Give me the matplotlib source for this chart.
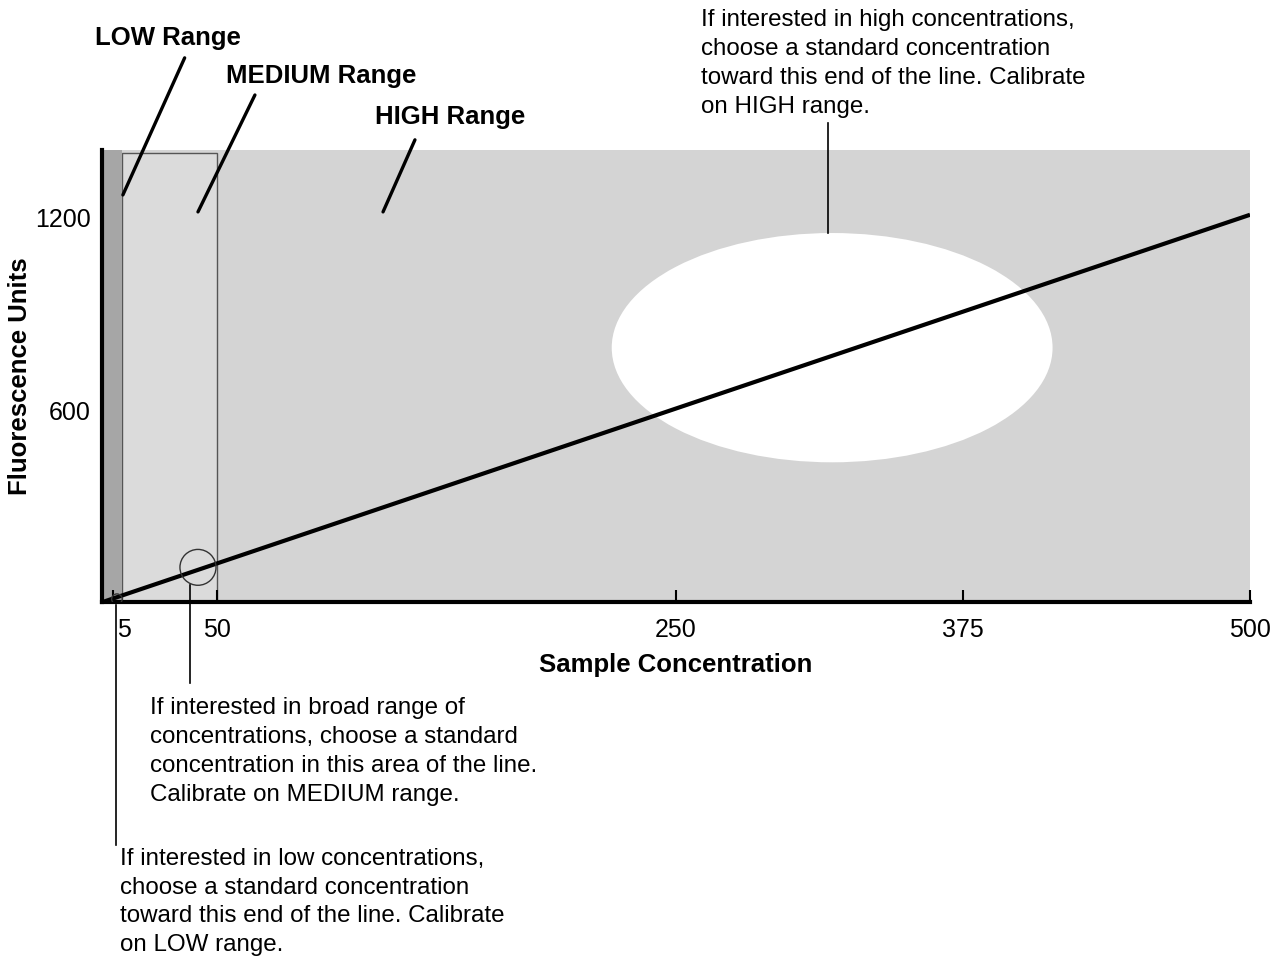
import matplotlib.pyplot as plt
from matplotlib.patches import Rectangle, Ellipse
import matplotlib.transforms as mtransforms

plt.rcParams['font.family'] = ['Liberation Sans', 'DejaVu Sans']

# calibration line
conc = [0, 500]
fluor = [0, 1210]

# range boundaries (sample concentration)
low_range = [0, 8.5]
medium_range = [8.5, 50]
high_range = [0, 500]
y_top = 1412

x_ticks = [5, 50, 250, 375, 500]
y_ticks = [600, 1200]

fig = plt.figure(figsize=(12.83, 9.59), dpi=100)
ax = fig.add_axes([0.0795, 0.372, 0.8948, 0.4715])

# shaded ranges
ax.add_patch(Rectangle((high_range[0], 0), high_range[1] - high_range[0], y_top,
                       facecolor='#d4d4d4', edgecolor='none', zorder=0))
ax.add_patch(Rectangle((medium_range[0], 0), medium_range[1] - medium_range[0], y_top - 8,
                       facecolor='#dbdbdb', edgecolor='#555555', lw=1.0, zorder=1))
ax.add_patch(Rectangle((low_range[0], 0), low_range[1] - low_range[0], y_top,
                       facecolor='#a6a6a6', edgecolor='none', zorder=1))

# white highlight of the high end
ax.add_patch(Ellipse((318, 795), 192, 716, facecolor='white', edgecolor='none', zorder=2))

# the line
ax.plot(conc, fluor, color='black', lw=3, zorder=5, solid_capstyle='butt')

# small circles marking the low / medium area
ax.add_patch(Ellipse((41.8, 109), 15.7, 112, facecolor='none', edgecolor='#333333', lw=1.0, zorder=6))
ax.add_patch(Ellipse((6.5, 10), 4.6, 32, facecolor='none', edgecolor='#333333', lw=1.0, zorder=6))

ax.set_xlim(0, 500)
ax.set_ylim(0, y_top)
ax.set_xticks(x_ticks)
ax.set_xticklabels([str(t) for t in x_ticks])
ax.set_yticks(y_ticks)
ax.set_yticklabels([str(t) for t in y_ticks])
ax.tick_params(axis='x', direction='in', length=9, width=1.5, labelsize=18, pad=11)
ax.tick_params(axis='y', length=0, labelsize=18, pad=8)
# nudge the "5" label to the right like the original
lbl5 = ax.get_xticklabels()[0]
lbl5.set_transform(lbl5.get_transform() + mtransforms.ScaledTranslation(10 / 100, 0, fig.dpi_scale_trans))

for s in ['top', 'right']:
    ax.spines[s].set_visible(False)
ax.spines['left'].set_linewidth(3)
ax.spines['bottom'].set_linewidth(3)

ax.set_xlabel('Sample Concentration', fontsize=18.5, fontweight='bold', labelpad=8)
ax.set_ylabel('Fluorescence Units', fontsize=18.5, fontweight='bold', labelpad=2)

# range labels with leader lines
range_labels = [('LOW Range', (9.1, 1272), (36, 1700), (28.6, 1762)),
                ('MEDIUM Range', (41.8, 1219), (66.6, 1584), (95.4, 1644)),
                ('HIGH Range', (122.4, 1219), (136.3, 1444), (151.6, 1516))]
for txt, p_end, p_start, p_txt in range_labels:
    ax.annotate('', xy=p_end, xytext=p_start, annotation_clip=False,
                arrowprops=dict(arrowstyle='-', color='black', lw=2.4, shrinkA=0, shrinkB=0))
    ax.text(p_txt[0], p_txt[1], txt, fontsize=18.5, fontweight='bold',
            ha='center', va='center', clip_on=False)

note_kw = dict(fontsize=17.4, ha='left', va='top', linespacing=1.41, clip_on=False)

# high note
ax.plot([316.2, 316.2], [1153, 1497], color='black', lw=1.2, clip_on=False, zorder=6)
ax.text(260.9, 1853,
        'If interested in high concentrations,\nchoose a standard concentration\n'
        'toward this end of the line. Calibrate\non HIGH range.', **note_kw)

# medium note
ax.plot([38.3, 38.3], [53, -253], color='black', lw=1.2, clip_on=False, zorder=6)
ax.text(20.9, -295,
        'If interested in broad range of\nconcentrations, choose a standard\n'
        'concentration in this area of the line.\nCalibrate on MEDIUM range.', **note_kw)

# low note
ax.plot([6.0, 6.0], [-9, -759], color='black', lw=1.2, clip_on=False, zorder=6)
ax.text(7.8, -766,
        'If interested in low concentrations,\nchoose a standard concentration\n'
        'toward this end of the line. Calibrate\non LOW range.', **note_kw)

fig.savefig('out.png', dpi=100)
